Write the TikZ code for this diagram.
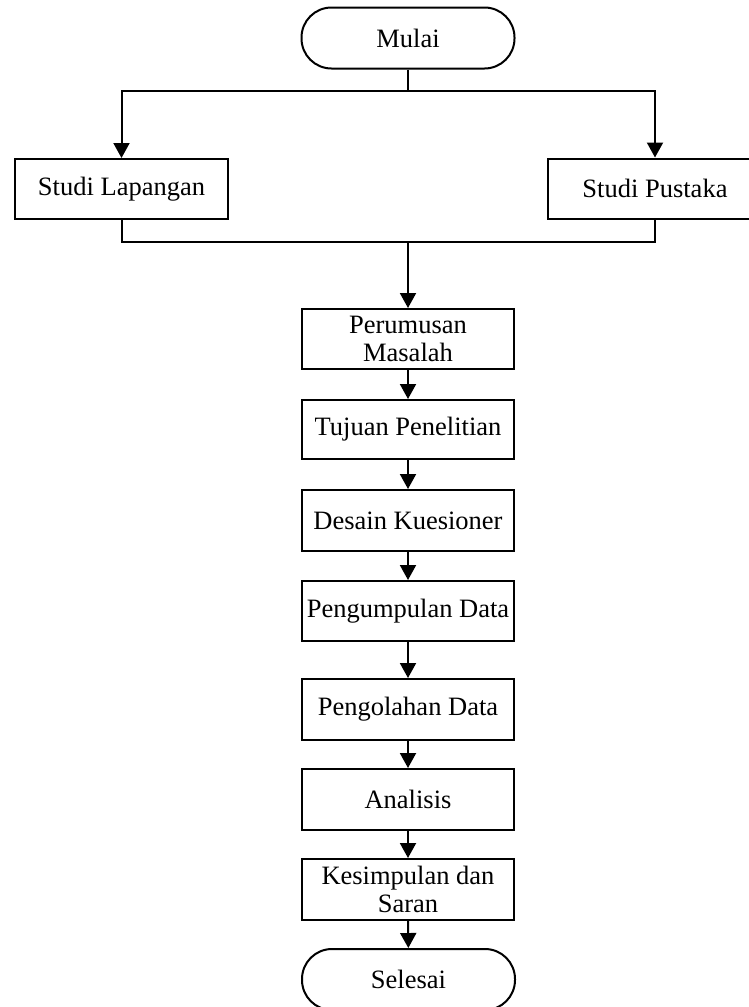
\documentclass[tikz,border=0pt]{standalone}
\usepackage{fontspec}
\setmainfont{Liberation Serif}
\usetikzlibrary{arrows.meta}
\begin{document}
\begin{tikzpicture}[x=1pt,y=-1pt,
  box/.style={draw=black, line width=2pt, fill=white, minimum width=212pt, minimum height=60pt, inner sep=1pt, align=center, font=\fontsize{26.5}{28.5}\selectfont},
  term/.style={box, rounded corners=30pt, minimum height=61pt},
  link/.style={line width=2pt, draw=black},
  arr/.style={link, -{Triangle[length=15pt,width=16pt]}}
]
\useasboundingbox (0,0) rectangle (749,1007);
\clip (0,0) rectangle (749,1007);
\fill[white] (0,0) rectangle (749,1007);

\node[term, minimum width=213pt] (mulai) at (408,38) {Mulai};
\node[box, minimum width=213pt] (sl) at (121.5,189) {Studi Lapangan};
\node[box, minimum width=214pt] (sp) at (655,188.5) {Studi Pustaka};
\node[box] (per) at (408,339) {Perumusan\\Masalah};
\node[box, minimum height=59pt] (tuj) at (408,429.5) {Tujuan Penelitian};
\node[box, minimum height=61pt] (des) at (408,520.5) {Desain Kuesioner};
\node[box] (pgm) at (408,611) {Pengumpulan Data};
\node[box, minimum height=61pt] (pgl) at (408,709.5) {Pengolahan Data};
\node[box, minimum height=61pt] (ana) at (408,799.5) {Analisis};
\node[box, minimum height=61pt] (kes) at (408,889.5) {Kesimpulan dan\\Saran};
\node[term, minimum width=213pt] (sel) at (408.5,979.5) {Selesai};

\coordinate (j1) at (408,91);
\coordinate (j2) at (408,242);

\draw[link] (mulai.south) -- (j1);
\draw[arr] (j1) -| (sl.north);
\draw[arr] (j1) -| (sp.north);
\draw[link] (sl.south) |- (j2);
\draw[link] (sp.south) |- (j2);
\draw[arr] (j2) -- (per.north);
\draw[arr] (per) -- (tuj);
\draw[arr] (tuj) -- (des);
\draw[arr] (des) -- (pgm);
\draw[arr] (pgm) -- (pgl);
\draw[arr] (pgl) -- (ana);
\draw[arr] (ana) -- (kes);
\draw[arr] (kes) -- (sel);
\end{tikzpicture}
\end{document}
